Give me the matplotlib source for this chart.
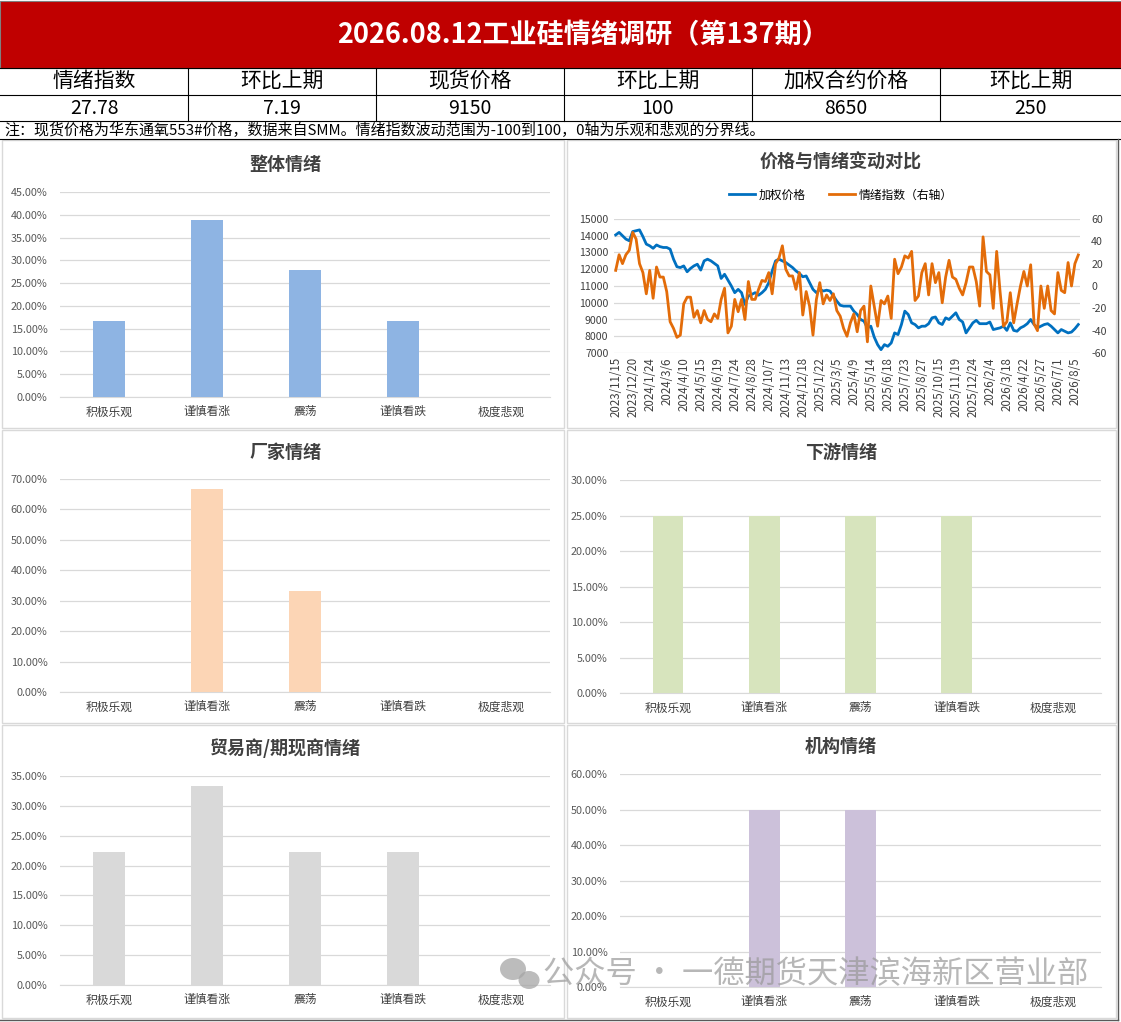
import numpy as np
import matplotlib
matplotlib.use("Agg")
import matplotlib.pyplot as plt
from matplotlib.patches import Rectangle, Ellipse
from matplotlib.ticker import FuncFormatter

plt.rcParams['font.family'] = ['Noto Sans CJK SC', 'DejaVu Sans']
plt.rcParams['axes.unicode_minus'] = False

W, H = 1121, 1022

# 表头数据
head_labels = ['情绪指数', '环比上期', '现货价格', '环比上期', '加权合约价格', '环比上期']
head_values = ['27.78', '7.19', '9150', '100', '8650', '250']
title = '2026.08.12工业硅情绪调研（第137期）'
note = '注：现货价格为华东通氧553#价格，数据来自SMM。情绪指数波动范围为-100到100，0轴为乐观和悲观的分界线。'

# 柱状图数据
cats = ['积极乐观', '谨慎看涨', '震荡', '谨慎看跌', '极度悲观']
overall = [0.1667, 0.3889, 0.2778, 0.1667, 0.0]
factory = [0.0, 0.6667, 0.3333, 0.0, 0.0]
downstream = [0.25, 0.25, 0.25, 0.25, 0.0]
trader = [0.2222, 0.3333, 0.2222, 0.2222, 0.0]
institution = [0.0, 0.50, 0.50, 0.0, 0.0]

# 价格与情绪（周度，137期）
price = [14050, 14200, 14000, 13800, 13700, 14250, 14300, 14350, 13950, 13500,
         13400, 13250, 13450, 13350, 13300, 13300, 13200, 12600, 12150, 12100,
         12200, 11850, 12050, 12200, 12300, 11950, 12500, 12600, 12500, 12350,
         12200, 11450, 11700, 11350, 11000, 10600, 10800, 10600, 9900, 10400,
         10500, 10600, 10450, 10600, 10800, 11200, 11900, 12500, 12600, 12500,
         12400, 12250, 12100, 11900, 11750, 11550, 11600, 11200, 10800, 10600,
         10800, 10700, 10750, 10700, 10400, 10100, 9850, 9800, 9800, 9800,
         9500, 9300, 9000, 8900, 8500, 8600, 7950, 7500, 7200, 7500,
         7400, 7600, 8200, 8100, 8700, 9500, 9300, 8800, 8700, 8500,
         8600, 8600, 8750, 9100, 9150, 8800, 8700, 9100, 9000, 9200,
         9400, 9000, 8850, 8200, 8500, 8800, 8950, 8750, 8750, 8750,
         8850, 8400, 8450, 8500, 8600, 8350, 8800, 8350, 8300, 8500,
         8600, 8750, 9000, 8700, 8500, 8600, 8700, 8750, 8600, 8400,
         8200, 8400, 8300, 8200, 8250, 8450, 8700]
sentiment = [14, 28, 20, 28, 32, 48, 42, 20, 12, -7,
             14, -11, 17, 8, 8, -5, -32, -38, -46, -44,
             -16, -10, -10, -28, -22, -33, -22, -30, -32, -25,
             -29, -12, -2, -42, -36, -12, -23, -12, -30, 4,
             -12, -12, -3, 5, 4, 12, -7, 20, 25, 36,
             15, 9, 9, -3, 12, -26, -5, -18, -44, -12,
             3, -16, -8, -13, -7, -22, -27, -38, -45, -33,
             -25, -41, -22, -18, -50, 0, -18, -36, -13, -16,
             -9, -29, 24, 11, 17, 27, 25, 31, -13, -9,
             12, 20, -8, 20, 3, 12, -15, 8, 23, 8,
             6, -2, -8, 3, 17, 17, 4, -18, 44, 13,
             10, -20, 31, -5, -36, -32, -6, -33, -16, 0,
             13, 0, 19, -34, -40, 0, -20, 0, -22, -25,
             12, -4, -6, 21, 0, 20, 27.78]
date_labels = ['2023/11/15', '2023/12/20', '2024/1/24', '2024/3/6', '2024/4/10',
               '2024/5/15', '2024/6/19', '2024/7/24', '2024/8/28', '2024/10/7',
               '2024/11/13', '2024/12/18', '2025/1/22', '2025/3/5', '2025/4/9',
               '2025/5/14', '2025/6/18', '2025/7/23', '2025/8/27', '2025/10/15',
               '2025/11/19', '2025/12/24', '2026/2/4', '2026/3/18', '2026/4/22',
               '2026/5/27', '2026/7/1', '2026/8/5']

fig = plt.figure(figsize=(W / 100, H / 100), dpi=100)
fig.patch.set_facecolor('white')


def px_axes(x0, y0, x1, y1, **kw):
    return fig.add_axes([x0 / W, 1 - y1 / H, (x1 - x0) / W, (y1 - y0) / H], **kw)


# 背景层：用像素坐标画表格与面板边框
bg = px_axes(0, 0, W, H)
bg.set_xlim(0, W)
bg.set_ylim(H, 0)
bg.axis('off')

bg.add_patch(Rectangle((0, 1), W, 67, facecolor='#C00000', edgecolor='#7f7f7f', lw=0.8))
bg.text(583, 35, title, color='white', fontsize=19.5, fontweight='bold', ha='center', va='center')

col_x = [0, 188, 376, 564, 752, 940, 1121]
for y in [68, 95, 121]:
    bg.plot([0, W], [y, y], color='black', lw=0.8)
for x in col_x[1:-1]:
    bg.plot([x, x], [68, 121], color='black', lw=0.8)
for i in range(6):
    cx = (col_x[i] + col_x[i + 1]) / 2
    bg.text(cx, 81, head_labels[i], fontsize=15, ha='center', va='center', color='black')
    bg.text(cx, 108, head_values[i], fontsize=14, ha='center', va='center', color='black')
bg.text(4, 130, note, fontsize=10.8, ha='left', va='center', color='black')
bg.plot([0, W], [139, 139], color='black', lw=0.8)

panels = [(2, 140, 564, 428), (567, 140, 1116, 428), (2, 430, 564, 723),
          (567, 430, 1116, 723), (2, 725, 564, 1018), (567, 725, 1116, 1018)]
for x0, y0, x1, y1 in panels:
    bg.add_patch(Rectangle((x0, y0), x1 - x0, y1 - y0, facecolor='none', edgecolor='#D9D9D9', lw=1))
bg.plot([1118, 1118], [139, 1020], color='#595959', lw=1)
bg.plot([0, 1118], [1020, 1020], color='#595959', lw=1)

title_color = '#404040'
bg.text(285, 164, '整体情绪', fontsize=13, fontweight='bold', ha='center', va='center', color=title_color)
bg.text(841, 162, '价格与情绪变动对比', fontsize=13, fontweight='bold', ha='center', va='center', color=title_color)
bg.text(285, 452, '厂家情绪', fontsize=13, fontweight='bold', ha='center', va='center', color=title_color)
bg.text(841, 452, '下游情绪', fontsize=13, fontweight='bold', ha='center', va='center', color=title_color)
bg.text(285, 748, '贸易商/期现商情绪', fontsize=13, fontweight='bold', ha='center', va='center', color=title_color)
bg.text(841, 746, '机构情绪', fontsize=13, fontweight='bold', ha='center', va='center', color=title_color)


def bar_panel(box, values, color, ymax, step):
    ax = px_axes(*box)
    x = np.arange(len(cats))
    ax.bar(x, values, width=0.32, color=color, zorder=3)
    ax.set_xlim(-0.5, len(cats) - 0.5)
    ax.set_ylim(0, ymax)
    ax.set_yticks(np.arange(0, ymax + 1e-9, step))
    ax.yaxis.set_major_formatter(FuncFormatter(lambda v, p: f'{v * 100:.2f}%'))
    ax.set_xticks(x)
    ax.set_xticklabels(cats, fontsize=8.5, color='#404040')
    ax.tick_params(axis='y', labelsize=7.8, labelcolor='#595959', length=0, pad=9)
    ax.tick_params(axis='x', length=0, pad=6)
    ax.grid(axis='y', color='#D9D9D9', lw=0.9, zorder=0)
    for s in ['top', 'right', 'left']:
        ax.spines[s].set_visible(False)
    ax.spines['bottom'].set_color('#D9D9D9')
    ax.set_facecolor('none')
    return ax


bar_panel((60, 192, 550, 397), overall, '#8EB4E3', 0.45, 0.05)
bar_panel((60, 479, 550, 692), factory, '#FCD5B5', 0.70, 0.10)
bar_panel((620, 480, 1101, 693), downstream, '#D7E4BD', 0.30, 0.05)
bar_panel((60, 776, 550, 985), trader, '#D9D9D9', 0.35, 0.05)
bar_panel((620, 774, 1101, 987), institution, '#CCC1DA', 0.60, 0.10)

# 价格与情绪折线图
ax = px_axes(614, 219, 1080, 353)
n = len(price)
xs = np.arange(n)
l1, = ax.plot(xs, price, color='#0070C0', lw=2.0, label='加权价格', zorder=3)
ax.set_xlim(-0.5, n - 0.5)
ax.set_ylim(7000, 15000)
ax.set_yticks(np.arange(7000, 15001, 1000))
ax.tick_params(axis='y', labelsize=7.6, labelcolor='#404040', length=0, pad=4)
ax.set_xticks(np.arange(0, n, 5))
ax.set_xticklabels(date_labels, rotation=90, fontsize=8.3, color='#404040')
ax.tick_params(axis='x', length=0, pad=3)
ax.grid(axis='y', color='#D9D9D9', lw=0.9, zorder=0)
for s in ['top', 'right', 'left', 'bottom']:
    ax.spines[s].set_visible(False)

ax2 = ax.twinx()
l2, = ax2.plot(xs, sentiment, color='#E36C09', lw=2.0, label='情绪指数（右轴）', zorder=3)
ax2.set_ylim(-60, 60)
ax2.set_yticks(np.arange(-60, 61, 20))
ax2.tick_params(axis='y', labelsize=7.6, labelcolor='#404040', length=0, pad=8)
for s in ['top', 'right', 'left', 'bottom']:
    ax2.spines[s].set_visible(False)

fig.legend(handles=[l1, l2], loc='center', bbox_to_anchor=(841 / W, 1 - 195 / H),
           ncol=2, frameon=False, fontsize=8.5, handlelength=2.2, columnspacing=2.0,
           handletextpad=0.3)

# 水印（放在最上层）
top = px_axes(0, 0, W, H)
top.set_xlim(0, W)
top.set_ylim(H, 0)
top.axis('off')
top.set_zorder(20)
top.add_patch(Ellipse((513, 969), 26, 22, facecolor='#A6A6A6', alpha=0.75))
top.add_patch(Ellipse((529, 980), 21, 18, facecolor='#A6A6A6', alpha=0.75))
top.text(816, 974, '公众号 · 一德期货天津滨海新区营业部', fontsize=22.5, color='#999999',
         alpha=0.7, ha='center', va='center')

fig.savefig('out.png', dpi=100)
